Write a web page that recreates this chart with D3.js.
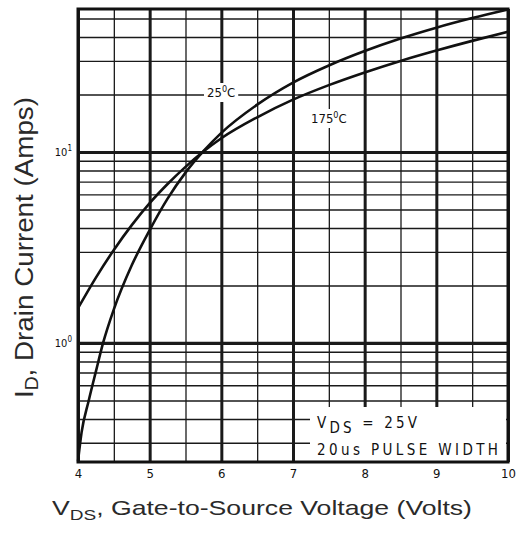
<!DOCTYPE html>
<html>
<head>
<meta charset="utf-8">
<script src="https://cdn.jsdelivr.net/npm/d3@7"></script>
<style>
  body { margin: 0; background: #fff; }
  svg { display: block; background: #fff; }
  .num { font-family: 'DejaVu Sans Condensed', 'Liberation Sans Narrow', 'DejaVu Sans', sans-serif; fill: #111; }
  .title { font-family: 'Liberation Sans', Arial, sans-serif; fill: #2a2a2a; }
</style>
</head>
<body>
<svg width="516" height="552"></svg>
<script>
// transfer characteristics
const vgs25 = [4, 4.05, 4.15, 4.25, 4.35, 4.5, 4.75, 5, 5.25, 5.5, 5.75, 6, 6.5, 7, 7.5, 8, 8.5, 9, 9.5, 10];
const id25 = [0.24, 0.34, 0.5, 0.71, 1.0, 1.5, 2.55, 3.9, 5.7, 7.8, 10.1, 12.6, 17.7, 23.1, 28.4, 33.8, 39.3, 44.8, 50.3, 55.8];
const vgs175 = [4, 4.25, 4.5, 4.75, 5, 5.25, 5.5, 5.75, 6, 6.5, 7, 7.5, 8, 8.5, 9, 9.5, 10];
const id175 = [1.52, 2.2, 3.07, 4.14, 5.4, 6.8, 8.36, 10.05, 11.8, 15.2, 18.8, 22.4, 26.1, 30.0, 34.0, 38.2, 42.6];

const xTicks = [4, 5, 6, 7, 8, 9, 10];
const xMinor = [4.5, 5.5, 6.5, 7.5, 8.5, 9.5];
const yMajor = [1, 10];
const yMinor = [0.3, 0.4, 0.5, 0.6, 0.7, 0.8, 0.9, 2, 3, 4, 5, 6, 7, 8, 9, 20, 30, 40, 50];

const svg = d3.select('svg'),
  margin = { top: 9, right: 8, bottom: 90, left: 78 },
  width = +svg.attr('width') - margin.left - margin.right,
  height = +svg.attr('height') - margin.top - margin.bottom;

const x = d3.scaleLinear().domain([4, 10]).range([0, width]);
const y = d3.scaleLog().domain([0.238, 56.1]).range([height, 0]);

const g = svg.append('g').attr('transform', `translate(${margin.left}, ${margin.top})`);

// grid: thin lines first, heavy ones on top
const xGrid = d3.axisBottom(x).tickSize(-height);
const yGrid = d3.axisLeft(y).tickSize(-width);
function grid(axis, vals, w) {
  const a = g.append('g')
    .attr('transform', axis === xGrid ? `translate(0, ${height})` : null)
    .call(axis.tickValues(vals).tickFormat(''));
  a.select('.domain').remove();
  a.selectAll('line').attr('stroke', '#1a1a1a').attr('stroke-width', w);
}
grid(xGrid, xMinor, 1.3);
grid(yGrid, yMinor, 1.4);
grid(xGrid, xTicks, 3);
grid(yGrid, yMajor, 3.2);

// white patch for the test-condition note
g.append('rect')
  .attr('x', 232).attr('y', 398)
  .attr('width', width - 234).attr('height', height - 399)
  .attr('fill', '#fff');

// frame
g.append('rect')
  .attr('width', width).attr('height', height)
  .attr('fill', 'none').attr('stroke', '#111').attr('stroke-width', 3);

// curves
const line = d3.line()
  .x((d) => x(d[0]))
  .y((d) => y(d[1]))
  .curve(d3.curveMonotoneX);

g.append('path')
  .datum(d3.zip(vgs25, id25))
  .attr('d', line)
  .attr('fill', 'none').attr('stroke', '#111').attr('stroke-width', 2.6);

g.append('path')
  .datum(d3.zip(vgs175, id175))
  .attr('d', line)
  .attr('fill', 'none').attr('stroke', '#111').attr('stroke-width', 2.6);

// curve labels with a white backing
function tempLabel(tx, ty, deg) {
  const t = g.append('text').attr('class', 'num')
    .attr('x', tx).attr('y', ty).attr('font-size', 13);
  t.append('tspan').text(deg);
  t.append('tspan').attr('dy', -5).attr('font-size', 9).text('0');
  t.append('tspan').attr('dy', 5).text('C');
  const b = t.node().getBBox();
  g.insert('rect', () => t.node())
    .attr('x', b.x - 3).attr('y', b.y - 1)
    .attr('width', b.width + 6).attr('height', b.height + 3)
    .attr('fill', '#fff');
}
tempLabel(129, 88, '25');
tempLabel(233, 114, '175');

// axes labels
const xAxis = g.append('g')
  .attr('transform', `translate(0, ${height})`)
  .call(d3.axisBottom(x).tickValues(xTicks).tickFormat(d3.format('d')).tickSize(0).tickPadding(7));
xAxis.select('.domain').remove();
xAxis.selectAll('text').attr('class', 'num').attr('font-size', 13);

const yAxis = g.append('g')
  .call(d3.axisLeft(y).tickValues(yMajor).tickSize(0).tickPadding(6).tickFormat(''));
yAxis.select('.domain').remove();
yAxis.selectAll('.tick text').attr('class', 'num').attr('font-size', 11)
  .each(function (d) {
    const t = d3.select(this);
    t.append('tspan').text('10');
    t.append('tspan').attr('dy', -5).attr('font-size', 8).text(Math.round(Math.log10(d)));
  });

// test conditions
const note1 = g.append('text').attr('class', 'num')
  .attr('x', 239).attr('y', 419).attr('font-size', 15)
  .attr('textLength', 100).attr('lengthAdjust', 'spacing');
note1.append('tspan').text('V');
note1.append('tspan').attr('dy', 5).text('DS');
note1.append('tspan').attr('dy', -5).text(' = 25V');

g.append('text').attr('class', 'num')
  .attr('x', 239).attr('y', 446).attr('font-size', 15)
  .attr('textLength', 181).attr('lengthAdjust', 'spacing')
  .text('20us PULSE WIDTH');

// axis titles
const xt = svg.append('text').attr('class', 'title')
  .attr('x', 52).attr('y', 515).attr('font-size', 21)
  .attr('textLength', 420).attr('lengthAdjust', 'spacingAndGlyphs');
xt.append('tspan').text('V');
xt.append('tspan').attr('dy', 5).attr('font-size', 15).text('DS');
xt.append('tspan').attr('dy', -5).text(', Gate-to-Source Voltage (Volts)');

const yt = svg.append('text').attr('class', 'title')
  .attr('transform', 'translate(33, 398) rotate(-90)')
  .attr('font-size', 26)
  .attr('textLength', 301).attr('lengthAdjust', 'spacingAndGlyphs');
yt.append('tspan').text('I');
yt.append('tspan').attr('dy', 5).attr('font-size', 18).text('D');
yt.append('tspan').attr('dy', -5).text(', Drain Current (Amps)');
</script>
</body>
</html>
